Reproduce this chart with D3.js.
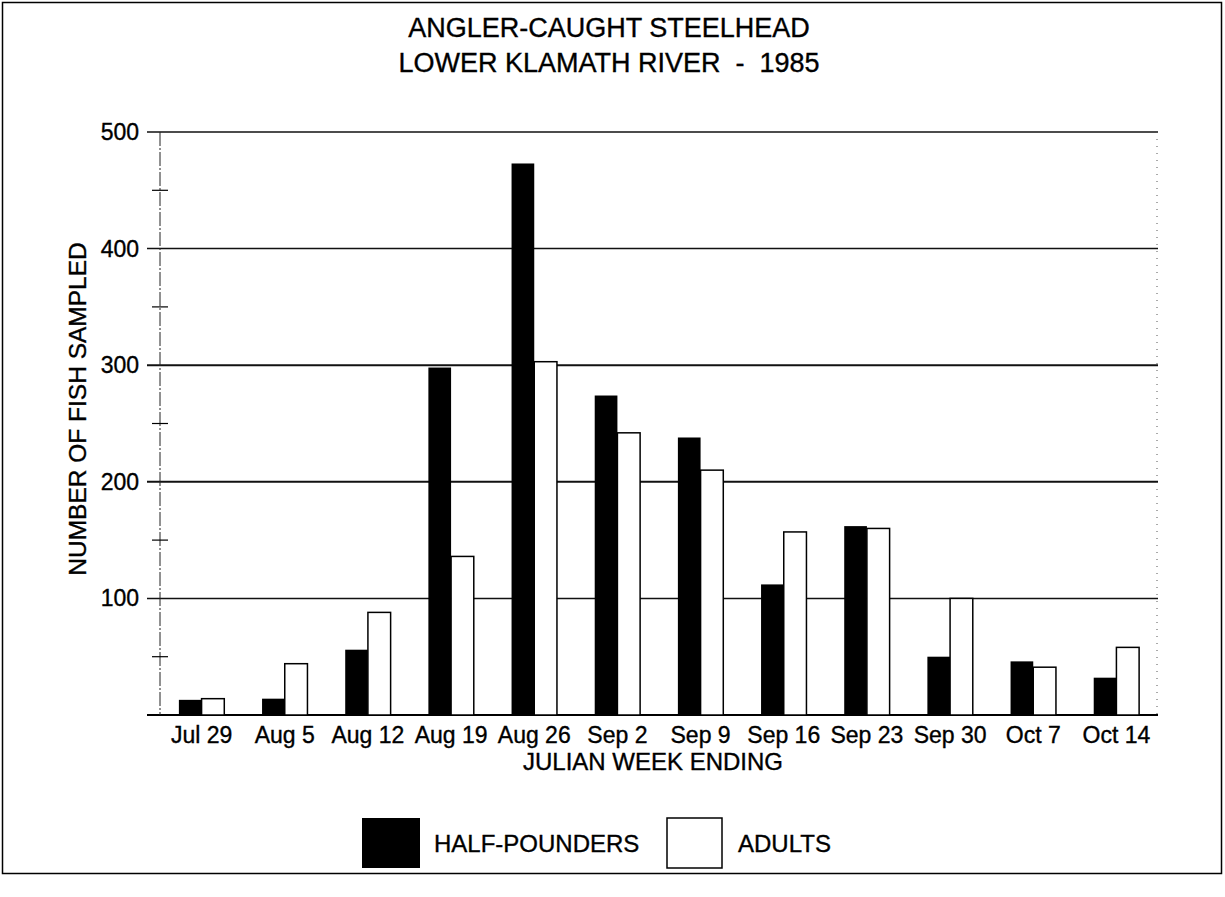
<!DOCTYPE html>
<html>
<head>
<meta charset="utf-8">
<script src="https://cdn.jsdelivr.net/npm/d3@7"></script>
<style>
  body { margin: 0; background: #fff; }
  text { font-family: "Liberation Sans", Arial, Helvetica, sans-serif; fill: #000; stroke: #000; stroke-width: 0.35px; }
</style>
</head>
<body>
<script>
// data
var weeks = ["Jul 29", "Aug 5", "Aug 12", "Aug 19", "Aug 26", "Sep 2",
             "Sep 9", "Sep 16", "Sep 23", "Sep 30", "Oct 7", "Oct 14"];
var halfPounders = [13, 14, 56, 298, 473, 274, 238, 112, 162, 50, 46, 32];
var adults = [14, 44, 88, 136, 303, 242, 210, 157, 160, 100, 41, 58];
var yTicks = [100, 200, 300, 400, 500];
var yMinor = [50, 150, 250, 350, 450];

var w = 1225,
    h = 897,
    plotLeft = 160,
    plotRight = 1158,
    plotTop = 132,
    plotBottom = 715,
    barW = 22.7;

var svg = d3.select("body")
    .append("svg")
    .attr("width", w)
    .attr("height", h);

var x = d3.scaleBand()
    .domain(weeks)
    .range([plotLeft, plotRight]);

var y = d3.scaleLinear()
    .domain([0, 500])
    .range([plotBottom, plotTop]);

// outer frame
svg.append("rect")
    .attr("x", 2.5)
    .attr("y", 2.5)
    .attr("width", 1219)
    .attr("height", 871)
    .style("fill", "none")
    .style("stroke", "#000")
    .style("stroke-width", 1.5);

// title
svg.append("text")
    .attr("x", 609)
    .attr("y", 37)
    .attr("text-anchor", "middle")
    .style("font-size", "27px")
    .text("ANGLER-CAUGHT STEELHEAD");

svg.append("text")
    .attr("x", 609)
    .attr("y", 72)
    .attr("text-anchor", "middle")
    .style("font-size", "27px")
    .attr("xml:space", "preserve")
    .text("LOWER KLAMATH RIVER  -  1985");

// gridlines
svg.selectAll("line.grid")
    .data(yTicks)
    .enter()
    .append("line")
    .attr("class", "grid")
    .attr("x1", 147)
    .attr("x2", plotRight)
    .attr("y1", function(d) { return y(d); })
    .attr("y2", function(d) { return y(d); })
    .style("stroke", "#111")
    .style("stroke-width", function(d) { return d == 200 || d == 300 ? 2 : 1.5; });

// baseline
svg.append("line")
    .attr("x1", 147)
    .attr("x2", plotRight)
    .attr("y1", y(0))
    .attr("y2", y(0))
    .style("stroke", "#000")
    .style("stroke-width", 2);

// y axis line + minor crosses
svg.append("line")
    .attr("x1", plotLeft)
    .attr("x2", plotLeft)
    .attr("y1", y(500))
    .attr("y2", y(0))
    .style("stroke", "#222")
    .style("stroke-width", 1)
    .style("stroke-dasharray", "14,2,2,2");

svg.selectAll("line.minor")
    .data(yMinor)
    .enter()
    .append("line")
    .attr("class", "minor")
    .attr("x1", plotLeft - 8)
    .attr("x2", plotLeft + 8)
    .attr("y1", function(d) { return y(d); })
    .attr("y2", function(d) { return y(d); })
    .style("stroke", "#000")
    .style("stroke-width", 1.2);

// right edge dotted
svg.append("line")
    .attr("x1", plotRight - 1)
    .attr("x2", plotRight - 1)
    .attr("y1", y(500))
    .attr("y2", y(0))
    .style("stroke", "#555")
    .style("stroke-width", 1)
    .style("stroke-dasharray", "1,6");

// y tick labels
svg.selectAll("text.ytick")
    .data(yTicks)
    .enter()
    .append("text")
    .attr("class", "ytick")
    .attr("x", 139)
    .attr("y", function(d) { return y(d) + 8; })
    .attr("text-anchor", "end")
    .style("font-size", "23px")
    .text(function(d) { return d; });

// bars
svg.selectAll("rect.hp")
    .data(halfPounders)
    .enter()
    .append("rect")
    .attr("class", "hp")
    .attr("x", function(d, i) { return x(weeks[i]) + x.bandwidth() / 2 - barW; })
    .attr("y", function(d) { return y(d); })
    .attr("width", barW)
    .attr("height", function(d) { return y(0) - y(d); })
    .style("fill", "#000");

svg.selectAll("rect.ad")
    .data(adults)
    .enter()
    .append("rect")
    .attr("class", "ad")
    .attr("x", function(d, i) { return x(weeks[i]) + x.bandwidth() / 2; })
    .attr("y", function(d) { return y(d); })
    .attr("width", barW)
    .attr("height", function(d) { return y(0) - y(d); })
    .style("fill", "#fff")
    .style("stroke", "#000")
    .style("stroke-width", 1.5);

// x tick labels
svg.selectAll("text.xtick")
    .data(weeks)
    .enter()
    .append("text")
    .attr("class", "xtick")
    .attr("x", function(d) { return x(d) + x.bandwidth() / 2; })
    .attr("y", 743)
    .attr("text-anchor", "middle")
    .style("font-size", "23px")
    .text(function(d) { return d; });

// axis titles
svg.append("text")
    .attr("x", 653)
    .attr("y", 770)
    .attr("text-anchor", "middle")
    .style("font-size", "24px")
    .text("JULIAN WEEK ENDING");

svg.append("text")
    .attr("transform", "translate(86,409) rotate(-90)")
    .attr("text-anchor", "middle")
    .style("font-size", "24.5px")
    .text("NUMBER OF FISH SAMPLED");

// legend
svg.append("rect")
    .attr("x", 362)
    .attr("y", 818)
    .attr("width", 58)
    .attr("height", 50)
    .style("fill", "#000");

svg.append("text")
    .attr("x", 434)
    .attr("y", 852)
    .style("font-size", "24px")
    .text("HALF-POUNDERS");

svg.append("rect")
    .attr("x", 667)
    .attr("y", 818)
    .attr("width", 55)
    .attr("height", 50)
    .style("fill", "#fff")
    .style("stroke", "#000")
    .style("stroke-width", 1.5);

svg.append("text")
    .attr("x", 738)
    .attr("y", 852)
    .style("font-size", "24px")
    .text("ADULTS");
</script>
</body>
</html>
